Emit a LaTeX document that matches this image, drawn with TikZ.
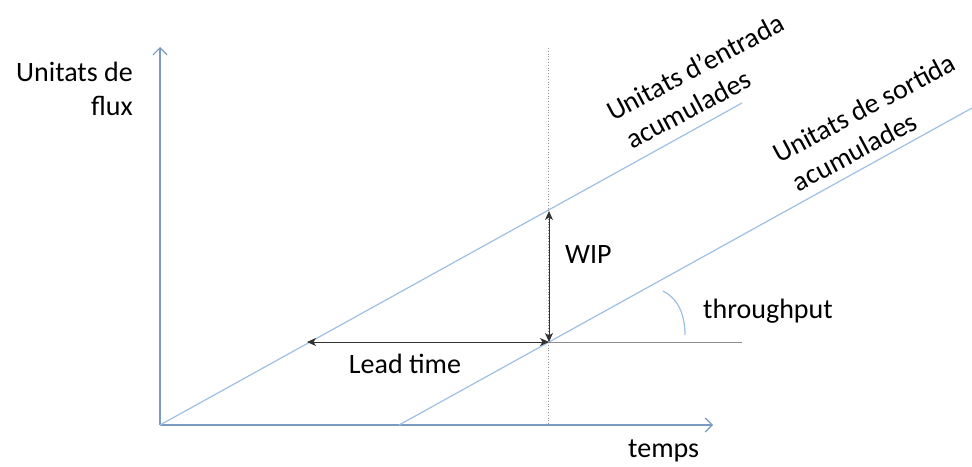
\documentclass[tikz,border=0pt]{standalone}
\usepackage{fontspec}
\setmainfont{Carlito}
\usetikzlibrary{arrows.meta}
\definecolor{axisblue}{HTML}{7A9BC4}
\definecolor{lineblue}{HTML}{9DC0E4}
\definecolor{guidegray}{HTML}{8C8C8C}
\begin{document}
\begin{tikzpicture}[x=1pt,y=-1pt,
  lbl/.style={inner sep=0pt, font=\fontsize{28}{34}\selectfont, text=black},
  axisline/.style={draw=axisblue, line width=1.4pt, -{Straight Barb[length=7pt,width=14pt,line width=1.2pt]}},
  cumline/.style={draw=lineblue, line width=1.2pt},
  guide/.style={draw=guidegray, line width=0.8pt},
  measure/.style={draw=black!80, line width=1pt, {Stealth[length=9pt,width=8pt,inset=2.5pt]}-{Stealth[length=9pt,width=8pt,inset=2.5pt]}}
]
\useasboundingbox (0,0) rectangle (972,466);

% axes
\coordinate (O) at (160,425);
\coordinate (ytop) at (160,47);
\coordinate (xend) at (713,425);
\draw[axisline] (O) -- (ytop);
\draw[axisline] (O) -- (xend);

% cumulative input and output lines
\coordinate (inEnd) at (742,103);
\coordinate (outStart) at (399,425);
\coordinate (outEnd) at (972,108);
\draw[cumline] (O) -- (inEnd);
\draw[cumline] (outStart) -- (outEnd);

% reference instant and throughput level
\coordinate (tTop) at (548,48);
\coordinate (tBot) at (548,425);
\draw[draw=guidegray, line width=0.8pt, dotted] (tTop) -- (tBot);
\coordinate (P) at (549,342);
\coordinate (Q) at (549,211);
\coordinate (L) at (307,342);
\coordinate (hEnd) at (742,342);
\draw[guide] (P) -- (hEnd);

% WIP and lead time measures
\draw[measure] (Q) -- (P);
\draw[measure] (L) -- (P);

% slope mark
\coordinate (arcA) at (663,291);
\coordinate (arcB) at (685,335);
\draw[cumline] (arcA) .. controls (677,298) and (685,313) .. (arcB);

% labels
\node[lbl, align=right, anchor=base east] (ylab) at (133,115) {Unitats de\\flux};
\node[lbl, anchor=base west] (xlab) at (628,457) {temps};
\node[lbl, anchor=base west] (wip) at (565,263) {WIP};
\node[lbl, anchor=base] (lead) at (405,373) {Lead time};
\node[lbl, anchor=base west] (thr) at (703,318) {throughput};
\node[lbl, align=left, rotate=28] (inlab) at (703,82) {Unitats d’entrada\\\hspace*{4pt}acumulades};
\node[lbl, align=left, rotate=28] (outlab) at (872,123) {Unitats de sortida\\\hspace*{4pt}acumulades};
\end{tikzpicture}
\end{document}
